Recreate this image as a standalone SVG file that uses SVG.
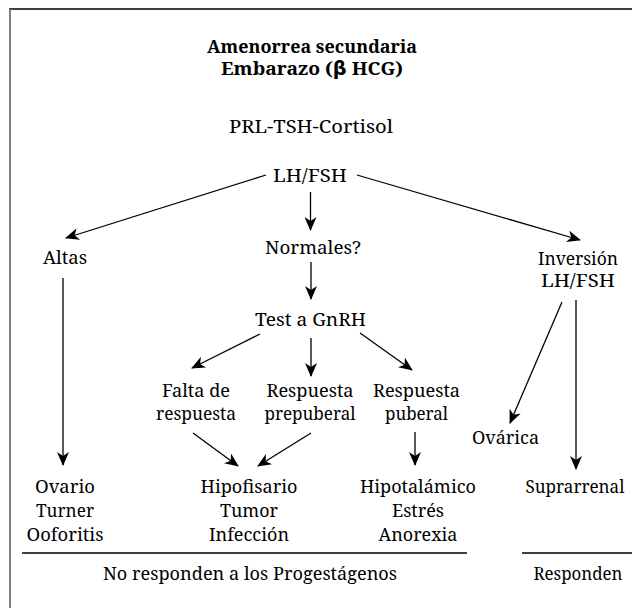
<svg xmlns="http://www.w3.org/2000/svg" width="632" height="608" viewBox="0 0 632 608">
<style>
text{font-family:"Noto Serif","Liberation Serif","Times New Roman",serif;font-size:18.5px;fill:#000;text-anchor:middle}
.b{font-weight:bold}
.c line{stroke:#000;stroke-width:1.3;fill:none}
.a{marker-end:url(#ah)}
</style>
<defs>
<marker id="ah" viewBox="0 0 14 12" refX="13" refY="6" markerWidth="14" markerHeight="12" markerUnits="userSpaceOnUse" orient="auto">
<path d="M0,0 L14,6 L0,12 L4,6 z" fill="#000"/>
</marker>
</defs>
<rect width="632" height="608" fill="#fff"/>
<line x1="9" y1="9" x2="632" y2="9" stroke="#000" stroke-width="1.5"/>
<line x1="10" y1="9" x2="10" y2="608" stroke="#808080" stroke-width="2"/>
<g id="title">
<text class="b" x="312" y="53" textLength="210" lengthAdjust="spacingAndGlyphs">Amenorrea secundaria</text>
<text class="b" x="312" y="75" textLength="182" lengthAdjust="spacingAndGlyphs">Embarazo (<tspan style="font-family:'DejaVu Sans',sans-serif">β</tspan> HCG)</text>
</g>
<g id="prl"><text x="311" y="133" textLength="164" lengthAdjust="spacingAndGlyphs">PRL-TSH-Cortisol</text></g>
<g id="lhfsh"><text x="310" y="182" textLength="74" lengthAdjust="spacingAndGlyphs">LH/FSH</text></g>
<g id="altas"><text x="65" y="264" textLength="44" lengthAdjust="spacingAndGlyphs">Altas</text></g>
<g id="normales"><text x="313" y="254" textLength="96" lengthAdjust="spacingAndGlyphs">Normales?</text></g>
<g id="inversion"><text x="578" y="265" textLength="80" lengthAdjust="spacingAndGlyphs">Inversión</text><text x="578" y="287" textLength="74" lengthAdjust="spacingAndGlyphs">LH/FSH</text></g>
<g id="test"><text x="310.5" y="326" textLength="111" lengthAdjust="spacingAndGlyphs">Test a GnRH</text></g>
<g id="falta"><text x="196" y="397" textLength="68" lengthAdjust="spacingAndGlyphs">Falta de</text><text x="196" y="420" textLength="80" lengthAdjust="spacingAndGlyphs">respuesta</text></g>
<g id="prepuberal"><text x="310" y="397" textLength="87" lengthAdjust="spacingAndGlyphs">Respuesta</text><text x="310" y="420" textLength="91" lengthAdjust="spacingAndGlyphs">prepuberal</text></g>
<g id="puberal"><text x="416.5" y="397" textLength="87" lengthAdjust="spacingAndGlyphs">Respuesta</text><text x="416.5" y="420" textLength="63" lengthAdjust="spacingAndGlyphs">puberal</text></g>
<g id="ovarica"><text x="505.5" y="444" textLength="67" lengthAdjust="spacingAndGlyphs">Ovárica</text></g>
<g id="ovario"><text x="65" y="493" textLength="60" lengthAdjust="spacingAndGlyphs">Ovario</text><text x="65" y="517" textLength="58" lengthAdjust="spacingAndGlyphs">Turner</text><text x="65" y="541" textLength="77" lengthAdjust="spacingAndGlyphs">Ooforitis</text></g>
<g id="hipofisario"><text x="249" y="493" textLength="97" lengthAdjust="spacingAndGlyphs">Hipofisario</text><text x="249" y="517" textLength="58" lengthAdjust="spacingAndGlyphs">Tumor</text><text x="249" y="541" textLength="80" lengthAdjust="spacingAndGlyphs">Infección</text></g>
<g id="hipotalamico"><text x="418" y="493" textLength="116" lengthAdjust="spacingAndGlyphs">Hipotalámico</text><text x="418" y="517" textLength="52" lengthAdjust="spacingAndGlyphs">Estrés</text><text x="418" y="541" textLength="79" lengthAdjust="spacingAndGlyphs">Anorexia</text></g>
<g id="suprarrenal"><text x="575" y="493" textLength="99" lengthAdjust="spacingAndGlyphs">Suprarrenal</text></g>
<g id="noresponden"><text x="250" y="580" textLength="294" lengthAdjust="spacingAndGlyphs">No responden a los Progestágenos</text></g>
<g id="responden"><text x="578" y="580" textLength="89" lengthAdjust="spacingAndGlyphs">Responden</text></g>
<g class="c" id="connectors">
<line class="a" x1="266" y1="175" x2="66" y2="238"/>
<line class="a" x1="310.5" y1="192" x2="310.5" y2="230"/>
<line class="a" x1="357" y1="175" x2="580" y2="240"/>
<line class="a" x1="63" y1="278" x2="63" y2="465"/>
<line class="a" x1="311" y1="262" x2="311" y2="299"/>
<line class="a" x1="260" y1="334" x2="192" y2="368"/>
<line class="a" x1="311" y1="338" x2="311" y2="376"/>
<line class="a" x1="360" y1="333" x2="412" y2="370"/>
<line class="a" x1="193" y1="433" x2="238" y2="466"/>
<line class="a" x1="311" y1="433" x2="258" y2="466"/>
<line class="a" x1="415" y1="432" x2="415" y2="465"/>
<line class="a" x1="562" y1="302" x2="510" y2="423"/>
<line class="a" x1="576" y1="300" x2="576" y2="469"/>
<line x1="22" y1="553" x2="467" y2="553"/>
<line x1="522" y1="553" x2="632" y2="553"/>
</g>
</svg>
